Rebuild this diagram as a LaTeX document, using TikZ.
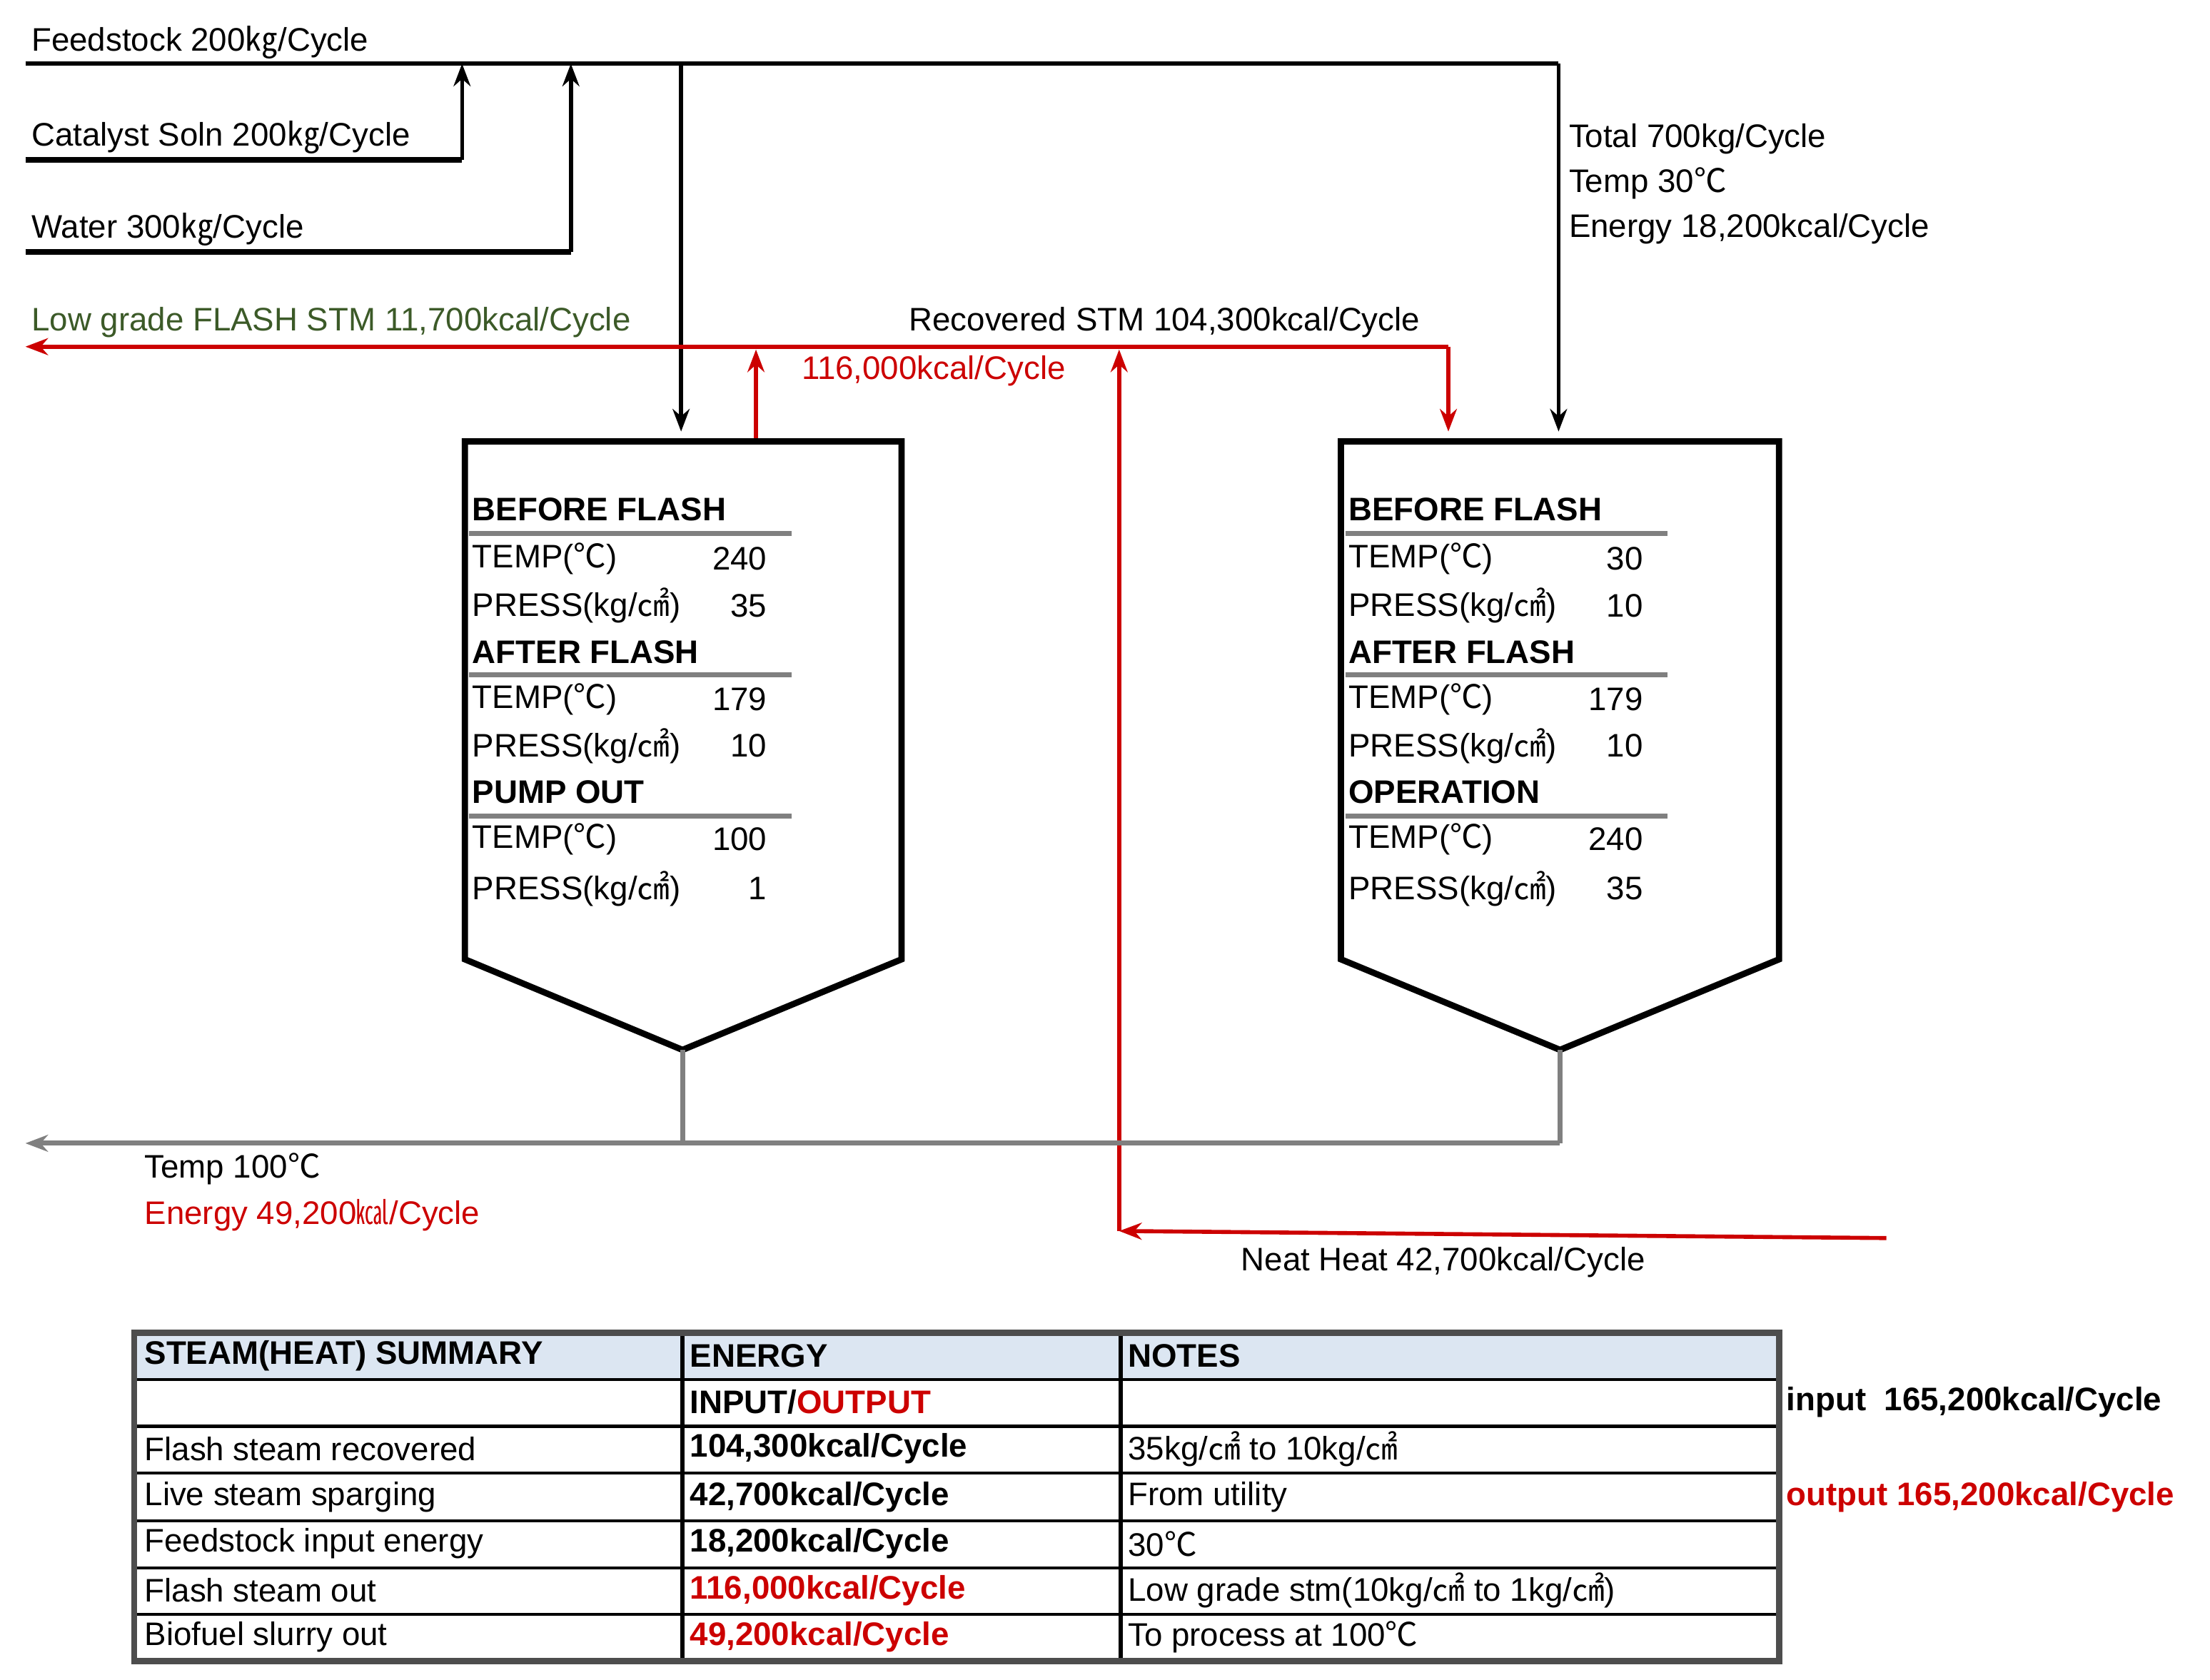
\documentclass[tikz,border=0pt]{standalone}
\usepackage{fontspec}
\setmainfont{Liberation Sans}
\newfontfamily\cjk{Noto Sans CJK SC}
\newcommand{\ukg}{{\cjk ㎏}}
\newcommand{\udeg}{{\cjk ℃}}
\newcommand{\ucm}{{\cjk ㎠}}
\newcommand{\ukcal}{{\cjk ㎉}}
\usetikzlibrary{arrows.meta}
\definecolor{rd}{RGB}{204,0,0}
\definecolor{gr}{RGB}{128,128,128}
\definecolor{grn}{RGB}{60,90,40}
\definecolor{hd}{RGB}{220,230,242}
\begin{document}
\begin{tikzpicture}[x=0.0198cm,y=-0.01984cm,
  every node/.style={font=\fontsize{13}{15}\selectfont,inner sep=0pt},
  t/.style={anchor=west},
  bf/.style={font=\fontsize{13}{15}\selectfont\bfseries},
  blk/.style={line width=1.6pt,-{Stealth[length=9pt]}},
  red/.style={rd,line width=1.6pt,-{Stealth[length=9pt]}},
  tank/.style={line width=2.5pt,line join=miter},
  ul/.style={gr,line width=2pt},
  gl/.style={gr,line width=2pt}]
\useasboundingbox (0,0) rectangle (1564,1187);
% feeds
\coordinate (fa) at (18,45); \coordinate (fb) at (1103,45); \coordinate (fc) at (1103,305);
\draw[line width=1.6pt] (fa) -- (fb);
\draw[blk] (fb) -- (fc);
\coordinate (c1) at (18,113); \coordinate (c2) at (327,113); \coordinate (c3) at (327,45);
\draw[line width=2.5pt] (c1) -- (c2); \draw[blk] (c2) -- (c3);
\coordinate (w1) at (18,178); \coordinate (w2) at (404,178); \coordinate (w3) at (404,45);
\draw[line width=2.5pt] (w1) -- (w2); \draw[blk] (w2) -- (w3);
\coordinate (d1) at (482,45); \coordinate (d2) at (482,305);
\draw[blk] (d1) -- (d2);
\node[t] (tf) at (22,30) {Feedstock 200\ukg/Cycle};
\node[t] (tc) at (22,97) {Catalyst Soln 200\ukg/Cycle};
\node[t] (tw) at (22,162) {Water 300\ukg/Cycle};
\node[t,align=left] (tt) at (1110,130) {Total 700kg/Cycle\\[3pt]Temp 30\udeg\\[3pt]Energy 18,200kcal/Cycle};
% red steam
\coordinate (r1) at (1025,245); \coordinate (r2) at (18,245); \coordinate (r3) at (1025,305);
\draw[red] (r1) -- (r2); \draw[red] (r1) -- (r3);
\coordinate (u1) at (535,310); \coordinate (u2) at (535,247);
\draw[red] (u1) -- (u2);
\coordinate (n1) at (1335,875); \coordinate (n2) at (792,870); \coordinate (n3) at (792,247);
\draw[red] (n1) -- (n2); \draw[red] (n2) -- (n3);
\node[t,grn] (lg) at (22,228) {Low grade FLASH STM 11,700kcal/Cycle};
\node[t] (rs) at (643,228) {Recovered STM 104,300kcal/Cycle};
\node[t,rd] (r116) at (567,262) {116,000kcal/Cycle};
\node[t] (nh) at (878,892) {Neat Heat 42,700kcal/Cycle};
% tanks
\draw[tank] (329,312) -- (638,312) -- (638,678) -- (483,742) -- (329,678) -- cycle;
\draw[tank] (949,312) -- (1259,312) -- (1259,678) -- (1104,742) -- (949,678) -- cycle;
\coordinate (b1) at (483,742); \coordinate (b2) at (483,808);
\coordinate (b3) at (1104,742); \coordinate (b4) at (1104,808); \coordinate (b5) at (18,808);
\draw[gl] (b1) -- (b2); \draw[gl] (b3) -- (b4);
\draw[gl,-{Stealth[length=9pt]}] (b4) -- (b5);
\node[t] (t100) at (102,826) {Temp 100\udeg};
\node[t,rd] (e49) at (102,859) {Energy 49,200\ukcal/Cycle};
% tank text
\foreach \x/\a/\b/\c/\d/\e/\f/\g/\h/\hh in {334/BEFORE FLASH/240/35/AFTER FLASH/179/10/PUMP OUT/100/1, 954/BEFORE FLASH/30/10/AFTER FLASH/179/10/OPERATION/240/35}{
  \node[t,bf] at (\x,360) {\a};
  \draw[ul] (\x-2,377) -- (\x+226,377);
  \node[t] at (\x,395) {TEMP(\udeg)}; \node[anchor=east] at (\x+209,395) {\b};
  \node[t] at (\x,428) {PRESS(kg/\ucm)}; \node[anchor=east] at (\x+209,428) {\c};
  \node[t,bf] at (\x,461) {\d};
  \draw[ul] (\x-2,477) -- (\x+226,477);
  \node[t] at (\x,494) {TEMP(\udeg)}; \node[anchor=east] at (\x+209,494) {\e};
  \node[t] at (\x,527) {PRESS(kg/\ucm)}; \node[anchor=east] at (\x+209,527) {\f};
  \node[t,bf] at (\x,560) {\g};
  \draw[ul] (\x-2,577) -- (\x+226,577);
  \node[t] at (\x,593) {TEMP(\udeg)}; \node[anchor=east] at (\x+209,593) {\h};
  \node[t] at (\x,628) {PRESS(kg/\ucm)}; \node[anchor=east] at (\x+209,628) {\hh};
}
% table
\fill[hd] (95,942) rectangle (1259,975);
\foreach \y in {975,1008,1041,1075,1108,1141} \draw[line width=1.2pt] (95,\y) -- (1259,\y);
\foreach \x in {483,793} \draw[line width=1.6pt] (\x,942) -- (\x,1174);
\draw[line width=2.5pt,gr!60!black] (95,942) rectangle (1259,1174);
\node[t,bf] at (102,958) {STEAM(HEAT) SUMMARY};
\node[t,bf] at (488,958) {ENERGY};
\node[t,bf] at (798,958) {NOTES};
\node[t,bf] at (488,991) {INPUT/\textcolor{rd}{OUTPUT}};
\node[t] at (102,1024) {Flash steam recovered};
\node[t] at (102,1058) {Live steam sparging};
\node[t] at (102,1091) {Feedstock input energy};
\node[t] at (102,1124) {Flash steam out};
\node[t] at (102,1157) {Biofuel slurry out};
\node[t,bf] at (488,1024) {104,300kcal/Cycle};
\node[t,bf] at (488,1058) {42,700kcal/Cycle};
\node[t,bf] at (488,1091) {18,200kcal/Cycle};
\node[t,rd,bf] at (488,1124) {116,000kcal/Cycle};
\node[t,rd,bf] at (488,1157) {49,200kcal/Cycle};
\node[t] at (798,1024) {35kg/\ucm{} to 10kg/\ucm};
\node[t] at (798,1058) {From utility};
\node[t] at (798,1091) {30\udeg};
\node[t] at (798,1124) {Low grade stm(10kg/\ucm{} to 1kg/\ucm)};
\node[t] at (798,1157) {To process at 100\udeg};
\node[t,bf] (in) at (1264,991) {input\ \ 165,200kcal/Cycle};
\node[t,rd,bf] (out) at (1264,1058) {output 165,200kcal/Cycle};
\end{tikzpicture}
\end{document}
